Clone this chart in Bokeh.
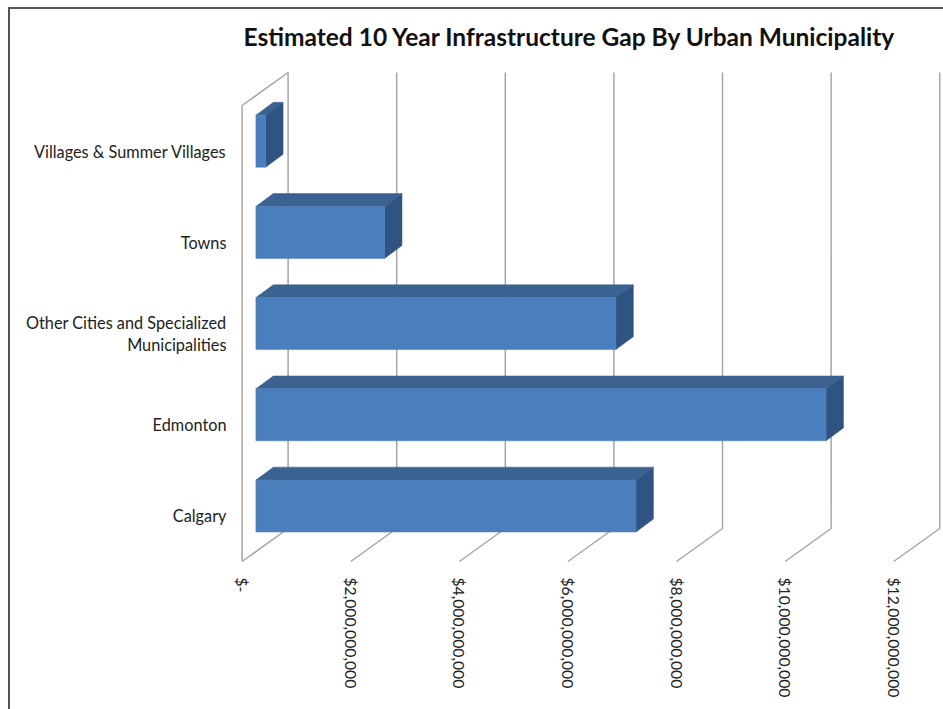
from bokeh.plotting import figure
from bokeh.models import FixedTicker, Range1d
from bokeh.embed import file_html
from bokeh.resources import INLINE
import math

title = "Estimated 10 Year Infrastructure Gap By Urban Municipality"
categories = ["Calgary", "Edmonton", "Other Cities and Specialized\nMunicipalities", "Towns", "Villages & Summer Villages"]
gap_billion = [7.0, 10.5, 6.63, 2.37, 0.18]
tick_billion = [0, 2, 4, 6, 8, 10, 12]
tick_labels = ["$-", "$2,000,000,000", "$4,000,000,000", "$6,000,000,000", "$8,000,000,000", "$10,000,000,000", "$12,000,000,000"]

# 3-D projection, expressed in data units
DX, DY = 46 / 54.3, 33 / 91.2     # full floor depth
D0, D1 = 0.30, 0.69               # where the bars sit along the depth
HALF = 0.285                      # half bar height
PXX, PXY = 54.3, 91.2             # px per unit in the frame

FRONT, TOP, SIDE = "#4A7EBC", "#3B6291", "#2F5482"
GRID = "#A6A6A6"

p = figure(width=935, height=702, output_backend="svg", toolbar_location=None,
           x_range=Range1d((235 - 241.6) / PXX, (943 - 241.6) / PXX),
           y_range=Range1d((561 - 566) / PXY, (561 - 60) / PXY),
           min_border_left=225, min_border_right=2, min_border_top=51, min_border_bottom=145,
           title=title)
p.outline_line_color = None
p.grid.visible = False
p.styles = {"border-left": "2px solid #555555", "border-top": "2px solid #555555",
            "box-sizing": "border-box", "margin-left": "8px", "margin-top": "7px"}

p.title.text_font = "Lato"
p.title.text_font_style = "bold"
p.title.text_font_size = "24.5px"
p.title.text_color = "#111111"
p.title.align = "left"
p.title.offset = 8
p.title.standoff = 20

# axes
xa = p.xaxis[0]
xa.ticker = FixedTicker(ticks=tick_billion)
xa.major_label_overrides = {t: l for t, l in zip(tick_billion, tick_labels)}
xa.major_label_orientation = -math.pi / 2
xa.major_label_standoff = 5
xa.axis_line_color = None
xa.major_tick_line_color = None
xa.minor_tick_line_color = None
xa.major_label_text_font = "Lato"
xa.major_label_text_font_size = "15.7px"
xa.major_label_text_color = "#222222"

ya = p.yaxis[0]
ticks_y = [i + 0.5 for i in range(len(categories))]
ya.ticker = FixedTicker(ticks=ticks_y)
ya.major_label_overrides = {t: l for t, l in zip(ticks_y, categories)}
ya.major_label_standoff = 3
ya.axis_line_color = None
ya.major_tick_line_color = None
ya.minor_tick_line_color = None
ya.major_label_text_font = "Lato"
ya.major_label_text_font_size = "16.3px"
ya.major_label_text_color = "#222222"

n = len(categories)
# side wall
p.line([0, 0, DX, DX, 0], [0, n, n + DY, DY, 0], line_color=GRID, line_width=1.5)
# gridlines: back wall and floor
for t in tick_billion[1:]:
    p.line([t + DX, t + DX, t], [n + DY, DY, 0], line_color=GRID, line_width=1.5)

# bars
for i, v in enumerate(gap_billion):
    c = i + 0.5
    x0, y_off = D0 * DX, D0 * DY
    ddx, ddy = (D1 - D0) * DX * 0.97, (D1 - D0) * DY
    lo, hi = c + y_off - HALF, c + y_off + HALF
    x1 = x0 + v
    p.patch([x0, x1, x1 + ddx, x0 + ddx], [hi, hi, hi + ddy, hi + ddy], fill_color=TOP, line_color=TOP, line_width=0.5)
    p.patch([x1, x1 + ddx, x1 + ddx, x1], [lo, lo + ddy, hi + ddy, hi], fill_color=SIDE, line_color=SIDE, line_width=0.5)
    p.patch([x0, x1, x1, x0], [lo, lo, hi, hi], fill_color=FRONT, line_color=FRONT, line_width=0.5)

open("out.html", "w").write(file_html(p, INLINE))
